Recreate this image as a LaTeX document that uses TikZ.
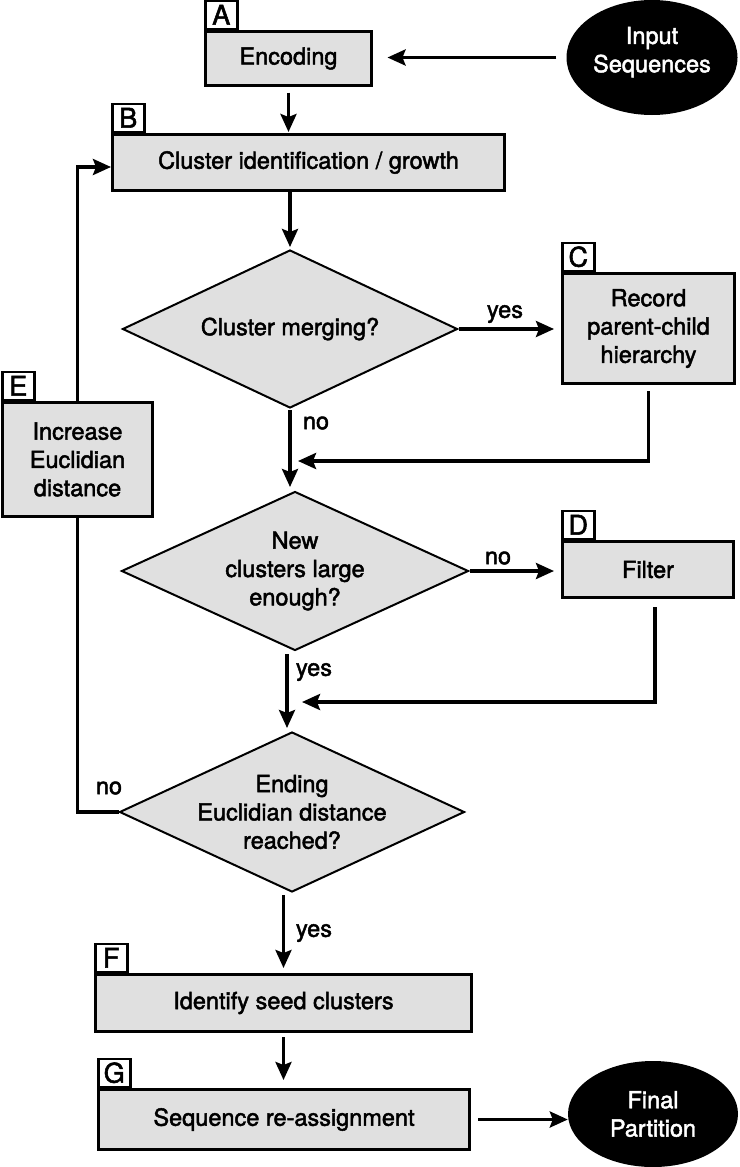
\documentclass[tikz,border=0pt]{standalone}
\usepackage{fontspec}
\setmainfont{TeX Gyre Heros}[FakeBold=2]
\usepackage{tikz}
\usetikzlibrary{shapes.geometric,arrows.meta}
\definecolor{cajagris}{RGB}{224,224,224}

\tikzset{
    caja/.style={draw, line width=3pt, fill=cajagris, align=center, inner sep=0pt},
    pestana/.style={draw, line width=2.5pt, fill=white, minimum width=32pt, minimum height=28pt,
        inner sep=0pt, anchor=south west, font=\fontsize{27}{27}\selectfont},
    rombo/.style={diamond, draw, line width=2pt, fill=cajagris, inner sep=0pt},
    terminal/.style={ellipse, fill=black, text=white, align=center, inner sep=0pt},
    flecha/.style={line width=3.5pt, -{Stealth[length=18pt,width=16pt,inset=3pt]}},
    etiqueta/.style={inner sep=0pt}
}

\begin{document}
\begin{tikzpicture}[x=1pt, y=-1pt, font=\fontsize{23.5}{28.3}\selectfont]
            \useasboundingbox (0,0) rectangle (739,1167);

            % Entrada y salida
            \node[terminal, minimum width=171pt, minimum height=115pt, text depth=16pt] (in) at (652,57.5) {Input\\Sequences};
            \node[terminal, minimum width=170pt, minimum height=106pt] (fin) at (653,1114) {Final\\Partition};

            % Cajas
            \node[caja, minimum width=166pt, minimum height=54pt] (enc) at (288.5,58.5) {Encoding};
            \node[caja, minimum width=392pt, minimum height=56pt] (clu) at (308.5,162.5) {Cluster identification / growth};
            \node[caja, minimum width=172pt, minimum height=110pt] (rec) at (648.5,328.5) {Record\\parent-child\\hierarchy};
            \node[caja, minimum width=150pt, minimum height=114pt] (inc) at (77.5,459.5) {Increase\\Euclidian\\distance};
            \node[caja, minimum width=171pt, minimum height=56pt] (fil) at (648,569.5) {Filter};
            \node[caja, minimum width=376pt, minimum height=57pt] (ide) at (283.5,1003) {Identify seed clusters};
            \node[caja, minimum width=371pt, minimum height=60pt] (seq) at (284,1119.5) {Sequence re-assignment};

            % Pestanas con letras
            \foreach \n/\l in {enc/A, clu/B, rec/C, fil/D, inc/E, ide/F, seq/G} {
                \node[pestana] (t\l) at (\n.north west) {\l};
            }

            % Rombos de decision
            \node[rombo, minimum width=335pt, minimum height=158pt] (d1) at (290,329) {};
            \node[align=center] (d1t) at (d1) {Cluster merging?};
            \node[rombo, minimum width=347pt, minimum height=159pt] (d2) at (295,571) {};
            \node[align=center] (d2t) at (d2) {New\\clusters large\\enough?};
            \node[rombo, minimum width=345pt, minimum height=160pt] (d3) at (292,812) {};
            \node[align=center] (d3t) at (d3) {Ending\\Euclidian distance\\reached?};

            % Puntos de union
            \coordinate (j1) at (291,461);
            \coordinate (j2) at (287,702);

            % Flechas
            \draw[flecha, shorten <=10pt, shorten >=14.5pt] (in.west) -- (in.west -| enc.east);
            \draw[flecha, shorten <=5.5pt, shorten >=1pt] (enc.south) -- (enc.south |- clu.north);
            \draw[flecha, shorten >=2pt] (d1.north |- clu.south) -- (d1.north);
            \draw[flecha, shorten >=7pt] (d1.east) -- (d1.east -| rec.west);
            \draw[flecha, shorten <=1pt, shorten >=3.5pt] (d1.south) -- (d1.south |- d2.north);
            \draw[flecha, shorten <=6pt, shorten >=7pt] (rec.south) |- (j1);
            \draw[flecha, shorten >=7pt] (d2.east) -- (d2.east -| fil.west);
            \draw[flecha, shorten <=8pt, shorten >=15pt] ([xshift=7pt]fil.south) |- (j2);
            \draw[flecha, shorten <=2.5pt, shorten >=3pt] (j2 |- d2.south) -- (j2 |- d3.north);
            \draw[line width=3.5pt] (d3.west) -| (inc.south);
            \draw[flecha] (inc.north) |- ([yshift=-4.5pt]clu.west);
            \draw[flecha, shorten <=2pt, shorten >=5pt] (ide.north |- d3.south) -- (ide.north);
            \draw[flecha, shorten <=4pt, shorten >=8pt] (ide.south) -- (ide.south |- seq.north);
            \draw[flecha, shorten <=7pt] (seq.east) -- (seq.east -| fin.west);

            % Etiquetas
            \node[etiqueta] (l1) at (505,314) {yes};
            \node[etiqueta] (l2) at (316,423) {no};
            \node[etiqueta] (l3) at (498,558) {no};
            \node[etiqueta] (l4) at (314,672) {yes};
            \node[etiqueta] (l5) at (109,788) {no};
            \node[etiqueta] (l6) at (314,933) {yes};
\end{tikzpicture}
\end{document}
